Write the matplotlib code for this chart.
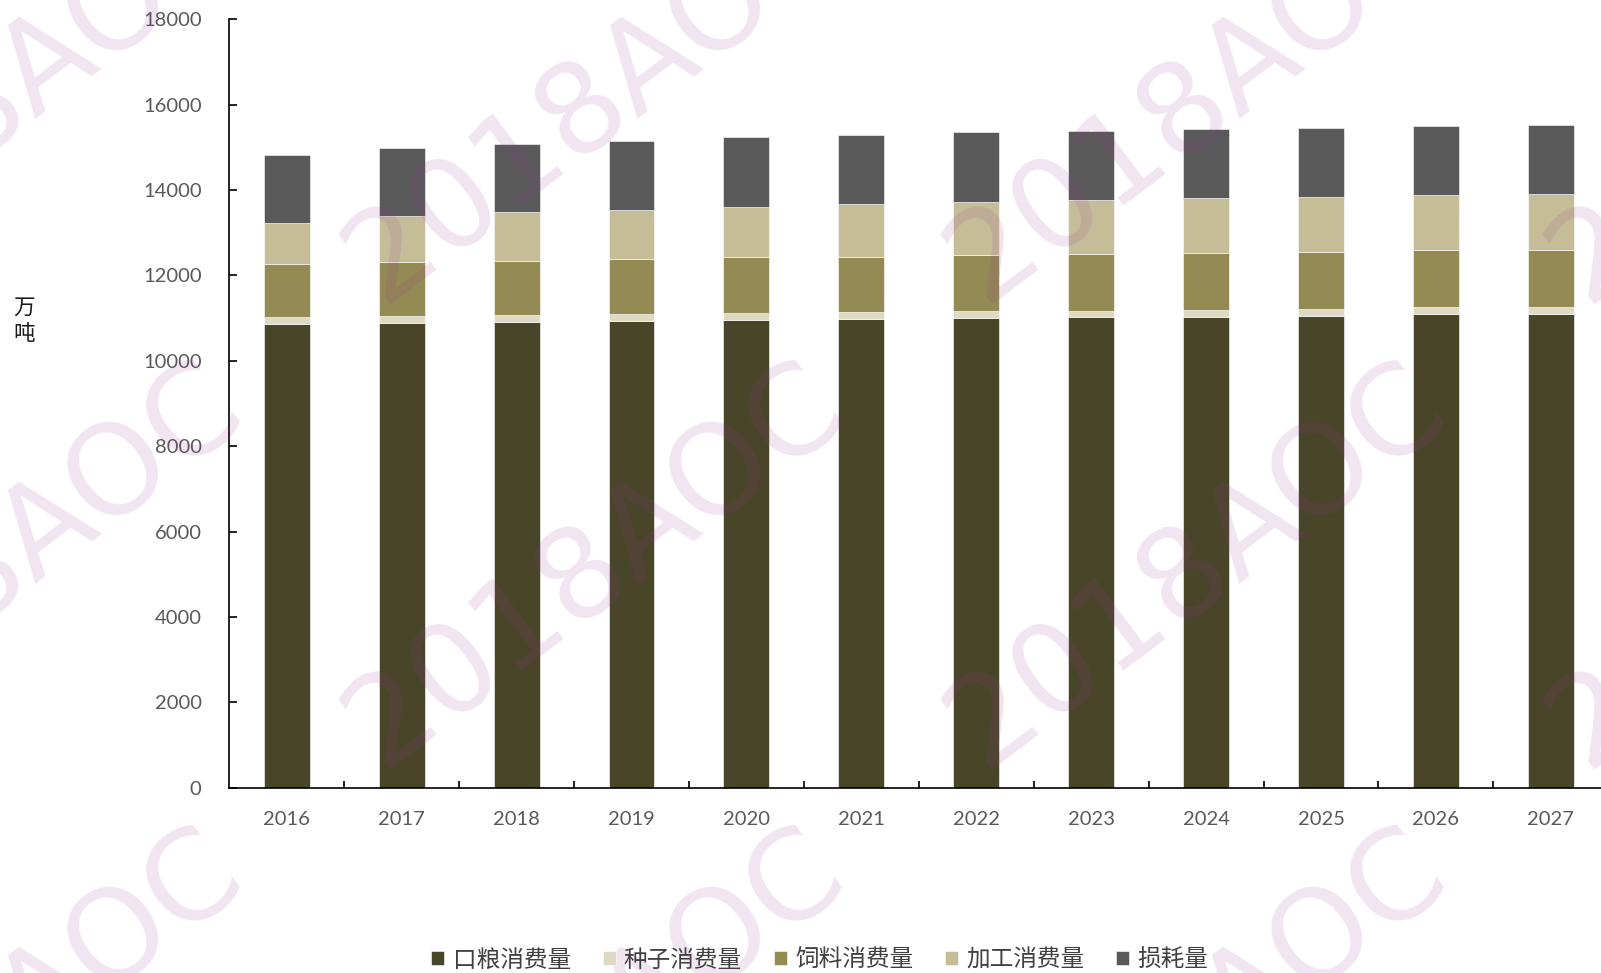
import matplotlib.pyplot as plt
import numpy as np

# values (万吨)
years = ["2016", "2017", "2018", "2019", "2020", "2021",
         "2022", "2023", "2024", "2025", "2026", "2027"]
kouliang = [10869, 10885, 10902, 10932, 10963, 10972, 11010, 11019, 11033, 11057, 11096, 11096]
zhongzi = [157, 164, 171, 164, 157, 164, 164, 155, 157, 163, 171, 157]
siliao = [1241, 1258, 1272, 1289, 1312, 1296, 1311, 1321, 1328, 1336, 1328, 1342]
jiagong = [968, 1092, 1134, 1147, 1178, 1234, 1242, 1265, 1289, 1288, 1296, 1305]
sunhao = [1586, 1579, 1592, 1610, 1625, 1616, 1625, 1623, 1616, 1616, 1616, 1616]

series_names = ["口粮消费量", "种子消费量", "饲料消费量", "加工消费量", "损耗量"]
series_colors = ["#494529", "#DDD9C3", "#948A54", "#C4BD97", "#595959"]

W, H = 1601, 973
fig = plt.figure(figsize=(W / 100, H / 100), dpi=100)
ax = fig.add_axes([229.3 / W, 1 - 787.7 / H, 1379 / W, 768.4 / H])

x = np.arange(len(years))
bottom = np.zeros(len(years))
handles = []
for vals, name, col in zip([kouliang, zhongzi, siliao, jiagong, sunhao], series_names, series_colors):
    b = ax.bar(x, vals, width=0.4, bottom=bottom, color=col, edgecolor="white",
               linewidth=0.4, label=name)
    handles.append(b)
    bottom += np.array(vals)

ax.set_xlim(-0.5, 11.5)
ax.set_ylim(0, 18000)
ax.set_yticks(np.arange(0, 18001, 2000))
ax.set_xticks(x)
ax.set_xticklabels(years)
ax.set_xticks(np.arange(0.5, 11.6, 1), minor=True)

for s in ["top", "right"]:
    ax.spines[s].set_visible(False)
for s in ["left", "bottom"]:
    ax.spines[s].set_linewidth(1.2)
    ax.spines[s].set_color("black")

ax.tick_params(axis="y", direction="in", length=6, width=1.2, pad=20,
               labelsize=14.5, labelcolor="#595959")
ax.tick_params(axis="x", which="major", length=0, pad=17,
               labelsize=14.5, labelcolor="#595959")
ax.tick_params(axis="x", which="minor", direction="in", length=5, width=1.2)
for lab in ax.get_xticklabels() + ax.get_yticklabels():
    lab.set_family("Lato")

fig.text(24 / W, 1 - 321 / H, "万\n吨", fontsize=15.5, family="Noto Sans CJK SC",
         ha="center", va="center", linespacing=1.25, color="#1a1a1a")

leg = fig.legend(handles=handles, labels=series_names, loc="center",
                 bbox_to_anchor=(820 / W, 1 - 960 / H), ncol=5, frameon=False,
                 prop={"family": "Noto Sans CJK SC", "size": 17},
                 handlelength=0.55, handleheight=0.55, handletextpad=0.35,
                 columnspacing=1.35, borderaxespad=0)
for t in leg.get_texts():
    t.set_color("#404040")

# watermark
for k in range(-1, 3):
    for m in range(-1, 3):
        cx = 595 + 602 * k
        cy = 565 + 465 * m
        fig.text(cx / W, 1 - cy / H, "2018AOC", fontsize=90, family="DejaVu Sans",
                 color="#9B379B", alpha=0.13, rotation=37, ha="center",
                 va="center", rotation_mode="anchor")

fig.savefig("out.png", dpi=100)
